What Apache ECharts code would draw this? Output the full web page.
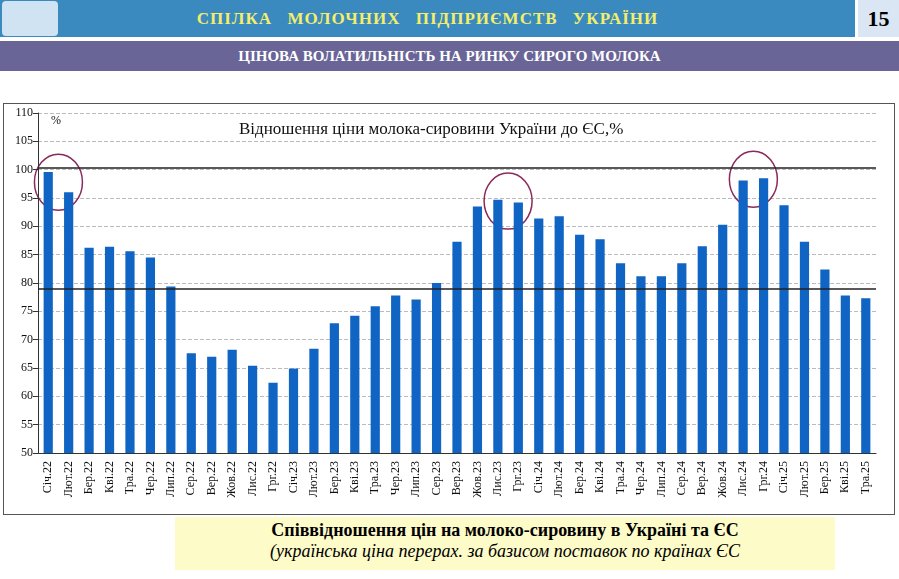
<!DOCTYPE html>
<html><head><meta charset="utf-8">
<script src="https://cdn.jsdelivr.net/npm/echarts@6/dist/echarts.min.js"></script>
<style>
body{margin:0;width:899px;height:579px;background:#fff;font-family:"Liberation Serif",serif;position:relative;overflow:hidden}
.top{position:absolute;left:0;top:0;width:855px;height:37px;background:#3a8abf;color:#f4ee6a;font-weight:bold;font-size:17px;text-align:center;line-height:37px;letter-spacing:1px;word-spacing:10px}
.logo{position:absolute;left:2px;top:1px;width:56px;height:35px;background:#cfe3f3;border-radius:4px}
.num{position:absolute;left:858px;top:0;width:41px;height:37px;background:#dbe6f4;font-weight:bold;font-size:22px;text-align:center;line-height:37px}
.sub{position:absolute;left:0;top:41px;width:899px;height:30px;background:#6a6597;color:#fff;font-weight:bold;font-size:15px;text-align:center;line-height:30px}
#c{position:absolute;left:3px;top:103px;width:892px;height:412px;border:1px solid #555;box-sizing:border-box}
.cap{position:absolute;left:175px;top:517px;width:660px;height:53px;background:#fdfbc8;text-align:center;font-size:18px;font-family:"Liberation Serif",serif}
</style></head><body>
<div class="top">СПІЛКА МОЛОЧНИХ ПІДПРИЄМСТВ УКРАЇНИ</div>
<div class="logo"></div>
<div class="num">15</div>
<div class="sub">ЦІНОВА ВОЛАТИЛЬНІСТЬ НА РИНКУ СИРОГО МОЛОКА</div>
<div id="c"></div>
<div class="cap"><b style="display:block;margin-top:3px">Співвідношення цін на молоко-сировину в Україні та ЄС</b><i>(українська ціна перерах. за базисом поставок по країнах ЄС</i></div>
<script>
var months = ['Січ.22','Лют.22','Бер.22','Кві.22','Тра.22','Чер.22','Лип.22','Сер.22','Вер.22','Жов.22','Лис.22','Грг.22',
  'Січ.23','Лют.23','Бер.23','Кві.23','Тра.23','Чер.23','Лип.23','Сер.23','Вер.23','Жов.23','Лис.23','Грг.23',
  'Січ.24','Лют.24','Бер.24','Кві.24','Тра.24','Чер.24','Лип.24','Сер.24','Вер.24','Жов.24','Лис.24','Грг.24',
  'Січ.25','Лют.25','Бер.25','Кві.25','Тра.25'];
var ratio = [99.6,96,86.2,86.4,85.6,84.5,79.4,67.6,67,68.2,65.4,62.4,
  64.9,68.4,72.9,74.2,75.9,77.8,77.1,80,87.3,93.5,94.7,94.2,
  91.4,91.8,88.5,87.7,83.5,81.2,81.2,83.5,86.5,90.3,98.1,98.5,
  93.7,87.3,82.4,77.8,77.3];
var refLines = [100.3, 79];
var circled = [[0,1],[22,23],[34,35]];

var serif = 'Liberation Serif';
var chart = echarts.init(document.getElementById('c'));
chart.setOption({
  animation:false,
  textStyle:{fontFamily:serif},
  grid:{left:34,right:18,top:9,bottom:61},
  title:{text:'Відношення ціни молока-сировини України до ЄС,%',left:230,top:12,
    textStyle:{fontFamily:serif,fontWeight:'normal',fontSize:17,color:'#111'}},
  xAxis:{type:'category',data:months,
    axisLine:{lineStyle:{color:'#333'}},axisTick:{lineStyle:{color:'#333'}},
    axisLabel:{rotate:90,interval:0,color:'#111',fontSize:12,fontFamily:serif}},
  yAxis:{type:'value',min:50,max:110,interval:5,name:'%',nameGap:-14,
    nameTextStyle:{color:'#111',fontSize:12,fontFamily:serif,padding:[0,0,0,36]},
    axisLine:{show:true,lineStyle:{color:'#333'}},axisTick:{show:true,lineStyle:{color:'#333'}},
    axisLabel:{color:'#111',fontSize:12,margin:5,fontFamily:serif},
    splitLine:{lineStyle:{type:'dashed',color:'#bbb'}}},
  series:[{type:'bar',data:ratio,barWidth:'45%',itemStyle:{color:'#0f64c4'},
    markLine:{symbol:'none',silent:true,label:{show:false},
      lineStyle:{color:'#222',type:'solid',width:1.5},
      data:refLines.map(function(v){return {yAxis:v};})}}]
});
var g = circled.map(function(p){
  var a = chart.convertToPixel({seriesIndex:0},[p[0],ratio[p[0]]]);
  var b = chart.convertToPixel({seriesIndex:0},[p[1],ratio[p[1]]]);
  return {type:'ellipse',shape:{cx:(a[0]+b[0])/2,cy:(a[1]+b[1])/2,rx:24,ry:28},
    style:{fill:'none',stroke:'#8a2a5a',lineWidth:1.5}};
});
chart.setOption({graphic:g});
</script>
</body></html>
